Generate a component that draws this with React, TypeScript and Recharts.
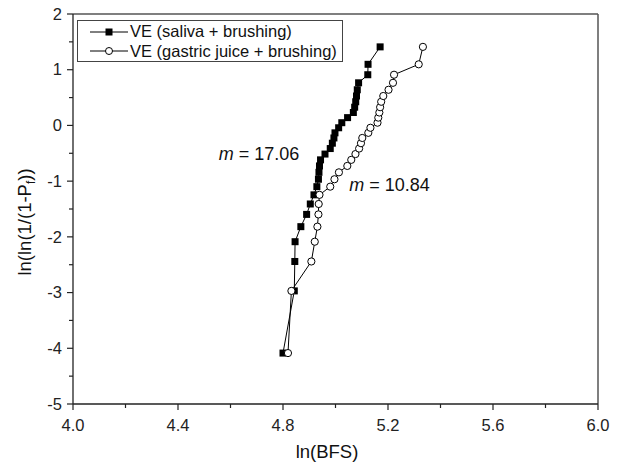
import React from 'react';
import { ScatterChart, Scatter, XAxis, YAxis, Legend, ReferenceLine, ReferenceDot } from 'recharts';

// Weibull rank values ln(ln(1/(1-Pf))), shared by both series (30 specimens)
const RANK_Y = [
  -4.086, -2.97, -2.442, -2.087, -1.817, -1.597, -1.41, -1.246, -1.099, -0.966,
  -0.842, -0.727, -0.618, -0.514, -0.415, -0.319, -0.225, -0.133, -0.042, 0.049,
  0.14, 0.232, 0.327, 0.425, 0.528, 0.64, 0.765, 0.91, 1.097, 1.41,
];

// ln(BFS)
const SALIVA_X = [
  4.8, 4.843, 4.845, 4.846, 4.868, 4.89, 4.904, 4.918, 4.929, 4.935,
  4.937, 4.939, 4.943, 4.96, 4.98, 4.988, 4.994, 4.998, 5.012, 5.024,
  5.046, 5.068, 5.073, 5.077, 5.08, 5.083, 5.088, 5.123, 5.124, 5.17,
];
const GASTRIC_X = [
  4.819, 4.832, 4.908, 4.921, 4.931, 4.935, 4.936, 4.939, 4.98, 4.996,
  5.013, 5.045, 5.06, 5.076, 5.09, 5.097, 5.102, 5.125, 5.133, 5.16,
  5.163, 5.167, 5.17, 5.174, 5.182, 5.202, 5.219, 5.223, 5.317, 5.333,
];

const X_TICKS = [4.0, 4.2, 4.4, 4.6, 4.8, 5.0, 5.2, 5.4, 5.6, 5.8, 6.0];
const Y_TICKS = [-5, -4.5, -4, -3.5, -3, -2.5, -2, -1.5, -1, -0.5, 0, 0.5, 1, 1.5, 2];

const SERIES_NAMES = ['VE (saliva + brushing)', 'VE (gastric juice + brushing)'];

const salivaData = SALIVA_X.map((x, i) => ({ x, y: RANK_Y[i] }));
const gastricData = GASTRIC_X.map((x, i) => ({ x, y: RANK_Y[i] }));

const FONT = '"Liberation Sans", Arial, sans-serif';
const AXIS = '#222';

const isMajorX = (v: number) => Math.abs((v - 4) / 0.4 - Math.round((v - 4) / 0.4)) < 1e-6;

const XTick = (props: any) => {
  const { x, y, payload } = props;
  const major = isMajorX(payload.value);
  return (
    <g>
      <line x1={x} x2={x} y1={y} y2={y + (major ? 6 : 4)} stroke={AXIS} strokeWidth={1.2} />
      {major && (
        <text x={x} y={y + 27} textAnchor="middle" fontSize={16.5} fontFamily={FONT} fill="#222">
          {payload.value.toFixed(1)}
        </text>
      )}
    </g>
  );
};

const YTick = (props: any) => {
  const { x, y, payload } = props;
  const major = Number.isInteger(payload.value);
  return (
    <g>
      <line x1={x} x2={x - (major ? 6 : 4)} y1={y} y2={y} stroke={AXIS} strokeWidth={1.2} />
      {major && (
        <text x={x - 11} y={y} dy="0.35em" textAnchor="end" fontSize={16.5} fontFamily={FONT} fill="#222">
          {payload.value}
        </text>
      )}
    </g>
  );
};

const Square = (props: any) => (
  <rect x={props.cx - 3.5} y={props.cy - 3.5} width={7} height={7} fill="#000" />
);
const OpenCircle = (props: any) => (
  <circle cx={props.cx} cy={props.cy} r={3.6} fill="#fff" stroke="#000" strokeWidth={1} />
);

const LegendBox = () => (
  <div
    style={{
      width: 266,
      height: 42,
      border: '1px solid #444',
      background: '#fff',
      fontFamily: FONT,
      fontSize: 16.5,
      color: '#111',
      boxSizing: 'border-box',
      paddingTop: 1,
    }}
  >
    {SERIES_NAMES.map((name, i) => (
      <div key={name} style={{ display: 'flex', alignItems: 'center', height: 19.5, marginLeft: 12 }}>
        <svg width={38} height={12} style={{ marginRight: 2 }}>
          <line x1={0} x2={38} y1={6} y2={6} stroke="#000" strokeWidth={1} />
          {i === 0 ? (
            <rect x={15.5} y={2.5} width={7} height={7} fill="#000" />
          ) : (
            <circle cx={19} cy={6} r={3.5} fill="#fff" stroke="#000" />
          )}
        </svg>
        <span>{name}</span>
      </div>
    ))}
  </div>
);

const Annotation = (value: string) => (props: any) => {
  const { viewBox } = props;
  return (
    <text x={viewBox.x} y={viewBox.y} fontSize={18} fontFamily={FONT} fill="#111">
      <tspan fontStyle="italic">m</tspan>
      <tspan> = {value}</tspan>
    </text>
  );
};

export default function App() {
  return (
    <div style={{ position: 'absolute', left: 0, top: 0, width: 618, height: 465, background: '#fff' }}>
      <ScatterChart width={618} height={465} margin={{ top: 14, right: 20, bottom: 0, left: 0 }}>
        <XAxis
          type="number"
          dataKey="x"
          domain={[4, 6]}
          ticks={X_TICKS}
          interval={0}
          tick={<XTick />}
          tickLine={false}
          tickSize={0}
          tickMargin={0}
          height={61}
          stroke={AXIS}
          strokeWidth={1.3}
          label={() => (
            <text x={327} y={458} textAnchor="middle" fontSize={18.5} fontFamily={FONT} fill="#111">
              ln(BFS)
            </text>
          )}
        />
        <YAxis
          type="number"
          dataKey="y"
          domain={[-5, 2]}
          ticks={Y_TICKS}
          interval={0}
          tick={<YTick />}
          tickLine={false}
          tickSize={0}
          tickMargin={0}
          width={73}
          stroke={AXIS}
          strokeWidth={1.3}
          label={() => (
            <text
              x={31}
              y={222}
              textAnchor="middle"
              fontSize={18.5}
              fontFamily={FONT}
              fill="#111"
              transform="rotate(-90, 31, 222)"
            >
              ln(ln(1/(1-P
              <tspan fontSize={12} dy={4}>f</tspan>
              <tspan dy={-4}>))</tspan>
            </text>
          )}
        />
        <ReferenceLine y={2} stroke="#555" strokeWidth={1.5} />
        <ReferenceLine x={6} stroke="#555" strokeWidth={1.5} />
        <Legend
          layout="vertical"
          align="center"
          verticalAlign="middle"
          content={<LegendBox />}
          wrapperStyle={{ position: 'absolute', top: 20, left: 77, width: 266 }}
        />
        <Scatter
          name={SERIES_NAMES[0]}
          data={salivaData}
          line={{ stroke: '#000', strokeWidth: 1 }}
          lineType="joint"
          shape={<Square />}
          isAnimationActive={false}
        />
        <Scatter
          name={SERIES_NAMES[1]}
          data={gastricData}
          line={{ stroke: '#000', strokeWidth: 1 }}
          lineType="joint"
          shape={<OpenCircle />}
          isAnimationActive={false}
        />
        <ReferenceDot x={4.555} y={-0.617} r={0} fill="none" stroke="none" label={Annotation('17.06')} />
        <ReferenceDot x={5.052} y={-1.174} r={0} fill="none" stroke="none" label={Annotation('10.84')} />
      </ScatterChart>
    </div>
  );
}
